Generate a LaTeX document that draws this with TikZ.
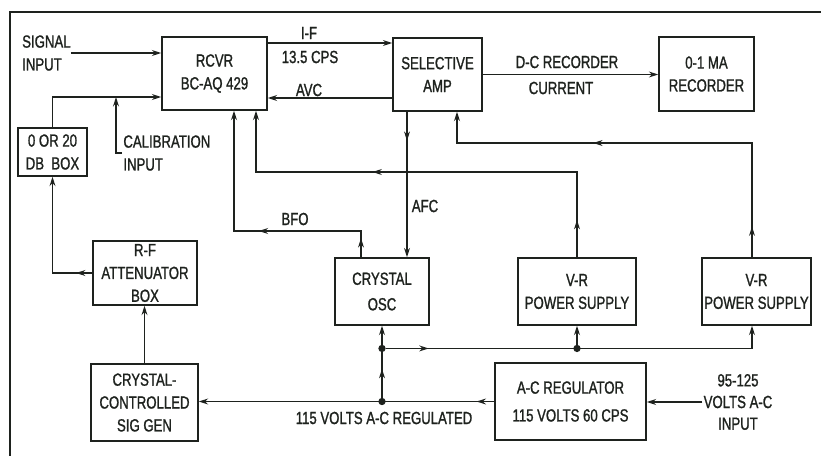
\documentclass[tikz,border=0pt]{standalone}
\usepackage{fontspec}
\setmainfont{Liberation Sans}[FakeStretch=0.75, FakeBold=1.2]
\usetikzlibrary{arrows.meta,decorations.markings,calc}
\definecolor{ink}{RGB}{30,34,30}
\newcommand{\boxfont}{\fontsize{15}{19.5}\selectfont}
\tikzset{
  block/.style={draw=ink, line width=1.2pt, align=center, inner sep=1pt, text=ink, font=\boxfont},
  conn/.style={draw, color=ink, line width=1.3pt, ->},
  lbl/.style={inner sep=1pt, text=ink, font=\boxfont},
  junction/.style={fill=ink, circle, inner sep=0pt, minimum size=2.2mm},
  arrowat/.style={postaction={decorate, decoration={markings, mark=at position #1 with {\arrow{>}}}}},
  >={Stealth[length=8pt,width=5pt]}
}
\newcommand{\Block}[6]{%
  % #1 name, #2 x, #3 y, #4 width, #5 height (sheet px), #6 text
  \node[block, minimum width=#4*0.3mm, minimum height=#5*0.3mm] (#1) at (#2,#3) {#6};
}
\begin{document}
\begin{tikzpicture}[x=0.3mm, y=-0.3mm]
  \useasboundingbox (0,0) rectangle (821,456);
  % sheet edge
  \draw[ink, line width=1.3pt] (821,12) -- (10,12) -- (10,456);
  % blocks
  \Block{rcvr}{214.5}{73.5}{105}{73}{RCVR\\BC-AQ 429}
  \Block{amp}{437.5}{74.5}{89}{73}{SELECTIVE\\AMP}
  \Block{rec}{706.5}{74}{95}{74}{0-1 MA\\RECORDER}
  \Block{dbbox}{52.5}{152}{69}{48}{0 OR 20\\DB\ \ BOX}
  \Block{atten}{145}{273}{104}{64}{R-F\\ATTENUATOR\\BOX}
  \Block{siggen}{144.5}{402.5}{107}{77}{CRYSTAL-\\CONTROLLED\\SIG GEN}
  \Block{osc}{382}{291.5}{94}{67}{CRYSTAL\\[0.8mm]OSC}
  \Block{vrA}{577}{291.5}{118}{67}{V-R\\POWER SUPPLY}
  \Block{vrB}{756.5}{291.5}{109}{67}{V-R\\POWER SUPPLY}
  \Block{acreg}{570.5}{401.5}{151}{77}{A-C REGULATOR\\[1.5mm]115 VOLTS 60 CPS}
  % outside inputs
  \node[lbl, anchor=west, align=left, inner sep=0pt] (sigin) at (22,53) {SIGNAL\\INPUT};
  \node[lbl, anchor=west, align=left] (calib) at (122,153) {CALIBRATION\\INPUT};
  \node[lbl, align=center, font=\fontsize{15}{18.5}\selectfont] (acin) at (738,402) {95-125\\VOLTS A-C\\INPUT};
  % bend points
  \coordinate (joinC) at (116,97);
  \coordinate (ifline) at (330,43);
  \coordinate (avcline) at (330,98);
  \coordinate (afc) at (407,206);
  \coordinate (bfoR) at (361,231);
  \coordinate (bfoL) at (234,231);
  \coordinate (ps1L) at (256,172);
  \coordinate (ps2K) at (752,143);
  \coordinate (ps2L) at (457,143);
  % power bus
  \node[junction] (busA) at (acreg.west -| osc.south) {};
  \node[junction] (busB) at ($(osc.south)!0.3!(busA)$) {};
  \node[junction] (busC) at (busB -| vrA.south) {};
  % signal side
  \draw[conn] (sigin.east) -- (sigin.east -| rcvr.west);
  \draw[conn] (dbbox.north) |- (rcvr.west |- joinC);
  \draw[conn] (calib.west) -| (joinC);
  \draw[conn, arrowat=0.12] (atten.west) -| (dbbox.south);
  \draw[conn] (siggen.north) -- (siggen.north |- atten.south);
  \draw[conn] (rcvr.east |- ifline) -- (amp.west |- ifline);
  \draw[conn] (amp.west |- avcline) -- (rcvr.east |- avcline);
  \draw[conn] (amp.east) -- (amp.east -| rec.west);
  \draw[conn, arrowat=0.2] (amp.south -| afc) -- (afc |- osc.north);
  \draw[conn, arrowat=0.07, arrowat=0.47] (osc.north -| bfoR) -- (bfoR) -- (bfoL) -- (bfoL |- rcvr.south);
  \draw[conn, arrowat=0.08, arrowat=0.62] (vrA.north) |- (ps1L) -- (ps1L |- rcvr.south);
  \draw[conn, arrowat=0.07, arrowat=0.62] (vrB.north -| ps2K) -- (ps2K) -- (ps2L) -- (ps2L |- amp.south);
  % supply side
  \draw[conn, arrowat=0.06] (acreg.west) -- (acreg.west -| siggen.east);
  \draw[conn] (acin.west) -- (acin.west -| acreg.east);
  \draw[conn, arrowat=0.4] (busA) -- (osc.south);
  \draw[conn, arrowat=0.11] (busB) -| (vrB.south -| ps2K);
  \draw[conn] (busC) -- (vrA.south);
  % line labels
  \node[lbl] (lblIF) at (309,33) {I-F};
  \node[lbl] (lblCPS) at (310,57) {13.5 CPS};
  \node[lbl] (lblAVC) at (309,90) {AVC};
  \node[lbl] (lblDC) at (567,62) {D-C RECORDER};
  \node[lbl] (lblCUR) at (561,88) {CURRENT};
  \node[lbl] (lblAFC) at (425,206) {AFC};
  \node[lbl] (lblBFO) at (295,219) {BFO};
  \node[lbl] (lblREG) at (384,418) {115 VOLTS A-C REGULATED};
\end{tikzpicture}
\end{document}
